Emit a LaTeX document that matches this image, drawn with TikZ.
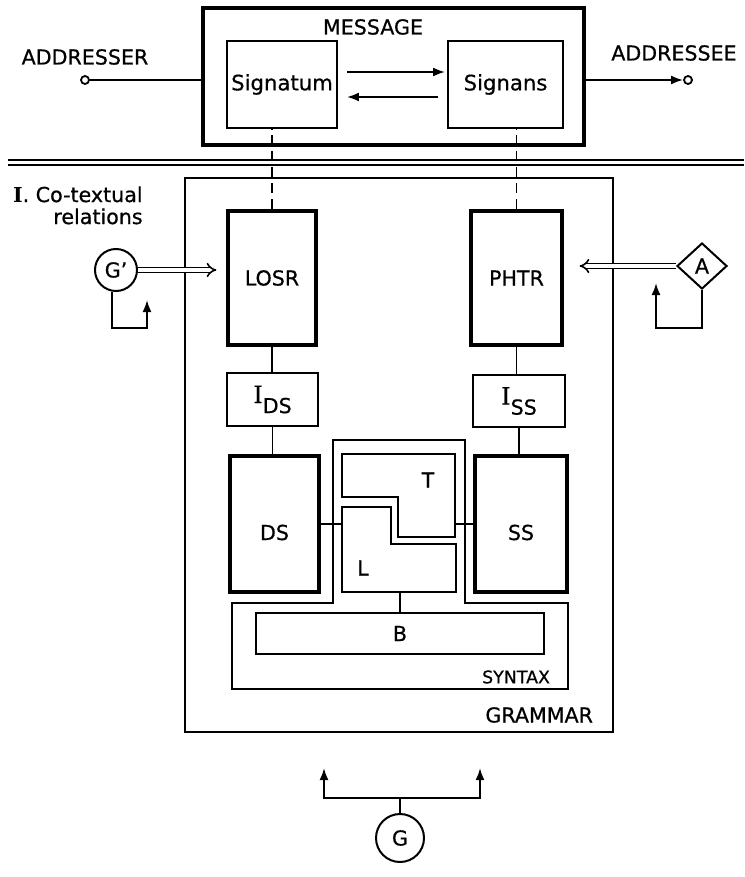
\documentclass[tikz,border=0pt]{standalone}
\usepackage{fontspec}
\setmainfont{DejaVu Sans}[UprightFeatures={FakeBold=0.6}]
\newfontfamily\romfont{DejaVu Serif}[UprightFeatures={FakeBold=0.6}]
\usetikzlibrary{arrows.meta,shapes.geometric,positioning}

\begin{document}
\begin{tikzpicture}[x=0.5pt,y=-0.5pt,
                    font=\fontsize{10.3}{11}\selectfont,
                    thickbox/.style={draw, line width=1.6pt, inner sep=0pt},
                    thinbox/.style={draw, line width=0.95pt, inner sep=0pt},
                    wh/.style 2 args={minimum width=#1*0.5pt, minimum height=#2*0.5pt},
                    dot/.style={circle, draw, fill=white, line width=0.9pt, inner sep=0pt, minimum size=4pt},
                    link/.style={line width=0.9pt},
                    arr/.style={line width=1pt, -{Latex[length=6pt,width=4.5pt]}},
                    dbl/.style={double, double distance=1.6pt, line width=0.8pt, -{Implies}},
                    lowtext/.style={text height=16pt, text depth=0pt}]

  \fill[white] (0,0) rectangle (744,877);
  \useasboundingbox (0,0) rectangle (744,877);

  % message
  \node[thickbox, wh={381}{137}] at (393.5,76.5) (msg) {};
  \node at (373,27)                               (msglbl) {MESSAGE};
  \node[thinbox, wh={110}{87}, font=\fontsize{10.6}{12}\selectfont] at (282,84.5)   (signatum) {Signatum};
  \node[thinbox, wh={115}{87}, font=\fontsize{10.6}{12}\selectfont] at (505.5,84.5) (signans)  {Signans};

  \node[dot] at (85,80)   (er) {};
  \node at (85,57)        (erlbl) {ADDRESSER};
  \node[dot] at (688,80)  (ee) {};
  \node at (674,53)       (eelbl) {ADDRESSEE};

  \draw[link] (er) -- (er -| msg.west);
  \draw[arr] (msg.east |- ee) -- (ee);
  \draw[arr, shorten <=4.5pt, shorten >=1pt] ([yshift=6.25pt]signatum.east) -- ([yshift=6.25pt]signans.west);
  \draw[arr, shorten <=4.5pt, shorten >=4.5pt] ([yshift=-6.25pt]signans.west) -- ([yshift=-6.25pt]signatum.east);

  \coordinate (sepl) at (8,162.5);
  \coordinate (sepr) at (744,162.5);
  \draw[line width=0.8pt, double, double distance=1.6pt] (sepl) -- (sepr);

  \node[anchor=north east, align=right, inner sep=0pt] at (143,186) (cotext)
       {{\romfont\bfseries I}. Co-textual\\relations};

  % grammar
  \node[thinbox, wh={428}{554}] at (399,455) (grammar) {};
  \node[anchor=east] at (600,715) (grammarlbl) {GRAMMAR};

  \node[thickbox, wh={88}{134}] at (272,278)   (losr) {LOSR};
  \node[thickbox, wh={91}{134}] at (516.5,278) (phtr) {PHTR};
  \node[thinbox, wh={91}{53}]   at (272.5,399.5) (ids)
       {{\romfont\fontsize{12}{12}\selectfont I}\raisebox{-5pt}{DS}};
  \node[thinbox, wh={92}{52}]   at (519,401)   (iss)
       {{\romfont\fontsize{12}{12}\selectfont I}\raisebox{-5pt}{SS}};
  \node[thickbox, lowtext, wh={89}{136}] at (274.5,524) (ds) {DS};
  \node[thickbox, lowtext, wh={92}{136}] at (521,524)   (ss) {SS};

  % syntax
  \draw[link] (333,603) -- (333,440) -- (465,440) -- (465,603) -- (568,603)
              -- (568,689) -- (232,689) -- (232,603) -- cycle;
  \draw[link] (342,454) -- (455,454) -- (455,537) -- (398,537) -- (398,497) -- (342,497) -- cycle;
  \draw[link] (342,507) -- (391,507) -- (391,544) -- (456,544) -- (456,592) -- (342,592) -- cycle;
  \node at (428,480) (tlbl) {T};
  \node at (363,568) (llbl) {L};
  \coordinate (lwest)  at (342,524);
  \coordinate (teast)  at (455,524);
  \coordinate (lsouth) at (400,592);
  \node[thinbox, wh={288}{41}] at (400,633.5) (bbox) {B};
  \node[anchor=east, font=\fontsize{8.7}{10}\selectfont] at (557,677) (syntaxlbl) {SYNTAX};

  \draw[link] (losr.south) -- (losr.south |- ids.north);
  \draw[link] (ids.south)  -- (ids.south |- ds.north);
  \draw[link] (phtr.south) -- (phtr.south |- iss.north);
  \draw[link] (iss.south)  -- (iss.south |- ss.north);
  \draw[link] (ds.east) -- (lwest);
  \draw[link] (teast) -- (ss.west);
  \draw[link] (lsouth) -- (bbox.north);

  \draw[link, dash pattern=on 5pt off 3pt] (losr.north) -- (losr.north |- signatum.south);
  \draw[link, dash pattern=on 5pt off 3pt] (phtr.north) -- (phtr.north |- signans.south);

  % G', A and G
  \node[circle, draw, line width=1pt, minimum size=21pt, inner sep=0pt] at (116,270) (gp) {G’};
  \coordinate (gptip) at (147,300);
  \draw[dbl, shorten >=5pt] (gp.east) -- (gp.east -| losr.west);
  \draw[arr] ([xshift=-2pt]gp.south) -- ++(0,36) -| (gptip);

  \node[diamond, draw, line width=1pt, inner sep=0pt, minimum width=25pt, minimum height=23pt]
       at (702,266) (adiam) {A};
  \coordinate (atip) at (656,283);
  \draw[dbl, shorten >=8pt] (adiam.west) -- (adiam.west -| phtr.east);
  \draw[arr] (adiam.south) -- ++(0,38) -| (atip);

  \node[circle, draw, line width=1pt, minimum size=24pt, inner sep=0pt] at (400,838) (g) {G};
  \coordinate (gleft)  at (324,768);
  \coordinate (gright) at (480,768);
  \draw[arr] (g.north) -- ++(0,-15) -| (gleft);
  \draw[arr] (g.north) ++(0,-15) -| (gright);

\end{tikzpicture}
\end{document}
